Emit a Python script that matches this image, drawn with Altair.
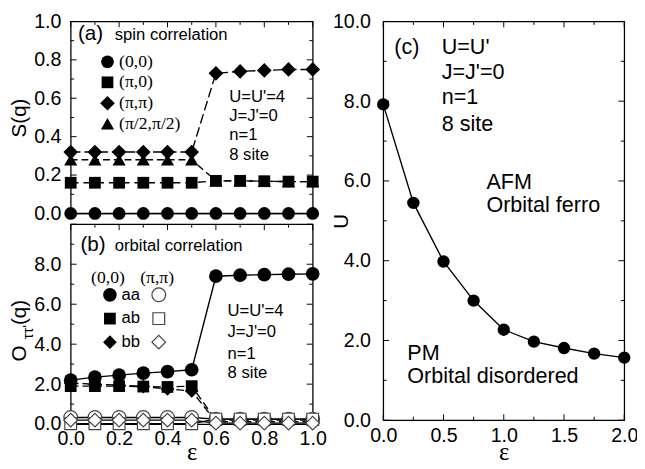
import altair as alt
import pandas as pd

SANS = "Liberation Sans"
SERIF = "Liberation Serif"

# ---------------- panel (a): spin correlation ----------------
eps_ab = [0.0, 0.1, 0.2, 0.3, 0.4, 0.5, 0.6, 0.7, 0.8, 0.9, 1.0]
s_00 = [0.0, 0.0, 0.0, 0.0, 0.0, 0.0, 0.0, 0.0, 0.0, 0.0, 0.0]
s_pi0 = [0.16, 0.16, 0.16, 0.16, 0.16, 0.16, 0.17, 0.17, 0.168, 0.166, 0.166]
s_pipi = [0.32, 0.32, 0.32, 0.32, 0.32, 0.32, 0.73, 0.74, 0.745, 0.75, 0.75]
s_pi2 = [0.28, 0.28, 0.28, 0.28, 0.28, 0.28, 0.17, 0.17, 0.168, 0.166, 0.166]

# ---------------- panel (b): orbital correlation ----------------
o_aa_00 = [2.2, 2.35, 2.45, 2.55, 2.63, 2.72, 7.4, 7.45, 7.48, 7.5, 7.52]
o_ab_00 = [1.9, 1.9, 1.9, 1.88, 1.86, 1.9, 0.2, 0.2, 0.2, 0.2, 0.2]
o_bb_00 = [2.05, 2.0, 1.95, 1.88, 1.76, 1.66, 0.12, 0.12, 0.12, 0.12, 0.12]
o_aa_pp = [0.33, 0.33, 0.33, 0.33, 0.33, 0.33, 0.25, 0.25, 0.25, 0.25, 0.25]
o_ab_pp = [0.02, 0.02, 0.02, 0.02, 0.02, 0.02, 0.25, 0.25, 0.25, 0.25, 0.25]
o_bb_pp = [0.2, 0.2, 0.2, 0.2, 0.2, 0.2, 0.05, 0.05, 0.05, 0.05, 0.05]

# ---------------- panel (c): phase boundary ----------------
eps_c = [0.0, 0.25, 0.5, 0.75, 1.0, 1.25, 1.5, 1.75, 2.0]
u_c = [7.92, 5.45, 3.98, 3.0, 2.27, 1.97, 1.81, 1.67, 1.57]

# ---------------- ticks ----------------
xab_major = [0.0, 0.2, 0.4, 0.6, 0.8, 1.0]
xab_minor = [0.1, 0.3, 0.5, 0.7, 0.9]
ya_major = [0.0, 0.2, 0.4, 0.6, 0.8, 1.0]
ya_minor = [0.1, 0.3, 0.5, 0.7, 0.9]
yb_major = [0, 2, 4, 6, 8, 10]
yb_minor = [1, 3, 5, 7, 9]
yb_labels = [0, 2, 4, 6, 8]
xc_major = [0.0, 0.5, 1.0, 1.5, 2.0]
xc_minor = [0.25, 0.75, 1.25, 1.75]
yc_major = [0, 2, 4, 6, 8, 10]
yc_minor = [1, 3, 5, 7, 9]

# ---------------- annotation texts ----------------
a_head_text = ["(a)", "spin correlation"]
a_head_x = [0.03, 0.182]
a_head_y = [0.905, 0.905]
a_leg_text = ["(0,0)", "(\u03c0,0)", "(\u03c0,\u03c0)", "(\u03c0/2,\u03c0/2)"]
a_leg_y = [0.79, 0.683, 0.574, 0.467]
a_leg_mx = 0.152
a_leg_tx = 0.2
a_info_text = ["U=U'=4", "J=J'=0", "n=1", "8 site"]
a_info_x = 0.655
a_info_y = [0.583, 0.483, 0.384, 0.276]

b_head_text = ["(b)", "orbital correlation"]
b_head_x = [0.04, 0.182]
b_head_y = [8.68, 8.68]
b_col_text = ["(0,0)", "(\u03c0,\u03c0)"]
b_col_x = [0.154, 0.357]
b_col_y = 7.32
b_leg_text = ["aa", "ab", "bb"]
b_leg_y = [6.47, 5.28, 4.1]
b_leg_fx = 0.162
b_leg_tx = 0.21
b_leg_ox = 0.364
b_info_text = ["U=U'=4", "J=J'=0", "n=1", "8 site"]
b_info_x = 0.648
b_info_y = [5.4, 4.35, 3.28, 2.3]

c_lab_text = ["(c)", "U=U'", "J=J'=0", "n=1", "8 site", "AFM", "Orbital ferro", "PM", "Orbital disordered"]
c_lab_x = [0.092, 0.485, 0.485, 0.485, 0.485, 0.856, 0.856, 0.2, 0.2]
c_lab_y = [9.18, 9.18, 8.55, 7.92, 7.26, 5.8, 5.22, 1.51, 0.94]

# ---------------- geometry ----------------
W_AB, H_A, H_B = 247, 196, 204
W_C, H_C = 246, 407
MAJ, MIN = 6, 3.5

xs_ab = alt.Scale(domain=[0, 1], range=[0, W_AB], nice=False, zero=False, padding=0)
ys_a = alt.Scale(domain=[0, 1], range=[H_A, 0], nice=False, padding=0)
ys_b = alt.Scale(domain=[0, 10], range=[H_B, 0], nice=False, padding=0)
xs_c = alt.Scale(domain=[0, 2], range=[0, W_C], nice=False, zero=False, padding=0)
ys_c = alt.Scale(domain=[0, 10], range=[H_C, 0], nice=False, padding=0)

ax_a_y = alt.Axis(values=ya_major, format=".1f", title="S(q)", labelPadding=10,
                  titleX=-52, titleBaseline="middle")
ax_b_x = alt.Axis(values=xab_major, format=".1f", title="\u03b5", labelPadding=5,
                  titleFont=SERIF, titleFontSize=25, titleY=36, titleBaseline="alphabetic")
ax_b_y = alt.Axis(values=yb_labels, format=".1f", title=None, labelPadding=10)
ax_c_x = alt.Axis(values=xc_major, format=".1f", title="\u03b5", labelPadding=6,
                  titleFont=SERIF, titleFontSize=25, titleY=40, titleBaseline="alphabetic")
ax_c_y = alt.Axis(values=yc_major, format=".1f", title="U", labelPadding=13,
                  titleX=-42, titleBaseline="middle")


def X(scale, axis):
    return alt.X("x:Q", scale=scale, axis=axis)


def Y(scale, axis):
    return alt.Y("v:Q", scale=scale, axis=axis)


def frame_ticks(xs, ys, xax, yax, W, H, xmaj, xmin, ymaj, ymin):
    out = []
    for vals, L in ((xmaj, MAJ), (xmin, MIN)):
        base = alt.Chart(pd.DataFrame({"x": vals})).mark_rule(color="black", strokeWidth=1)
        out.append(base.encode(x=X(xs, xax), y=alt.value(0), y2=alt.value(L)))
        out.append(base.encode(x=X(xs, xax), y=alt.value(H), y2=alt.value(H - L)))
    for vals, L in ((ymaj, MAJ), (ymin, MIN)):
        base = alt.Chart(pd.DataFrame({"v": vals})).mark_rule(color="black", strokeWidth=1)
        out.append(base.encode(y=Y(ys, yax), x=alt.value(0), x2=alt.value(L)))
        out.append(base.encode(y=Y(ys, yax), x=alt.value(W), x2=alt.value(W - L)))
    return out


def series(x, vals, xs, ys, xax, yax, shape, size, dash=None, open_=False):
    df = pd.DataFrame({"x": x, "v": vals})
    lk = dict(color="black", strokeWidth=1.4)
    if dash:
        lk["strokeDash"] = dash
    line = alt.Chart(df).mark_line(**lk).encode(x=X(xs, xax), y=Y(ys, yax))
    if open_:
        pt = alt.Chart(df).mark_point(shape=shape, size=size, filled=True, fill="white",
                                      stroke="#444444", strokeWidth=1.2, opacity=1)
    else:
        pt = alt.Chart(df).mark_point(shape=shape, size=size, filled=True, color="black", opacity=1)
    pt = pt.encode(x=X(xs, xax), y=Y(ys, yax))
    return [line, pt]


def texts(xv, yv, tv, xs, ys, xax, yax, font=SANS, size=17, align="left", baseline="alphabetic"):
    df = pd.DataFrame({"x": xv, "v": yv, "t": tv})
    return alt.Chart(df).mark_text(align=align, baseline=baseline, font=font, fontSize=size,
                                   color="black").encode(x=X(xs, xax), y=Y(ys, yax), text="t:N")


def marker(xv, yv, xs, ys, xax, yax, shape, size, open_=False):
    df = pd.DataFrame({"x": [xv], "v": [yv]})
    if open_:
        m = alt.Chart(df).mark_point(shape=shape, size=size, filled=True, fill="white",
                                     stroke="#444444", strokeWidth=1.2, opacity=1)
    else:
        m = alt.Chart(df).mark_point(shape=shape, size=size, filled=True, color="black", opacity=1)
    return m.encode(x=X(xs, xax), y=Y(ys, yax))


# ---------------- panel (a) ----------------
A = dict(xs=xs_ab, ys=ys_a, xax=None, yax=ax_a_y)
la = frame_ticks(xs_ab, ys_a, None, ax_a_y, W_AB, H_A, xab_major, xab_minor, ya_major, ya_minor)
la += series(eps_ab, s_00, **A, shape="circle", size=169)
la += series(eps_ab, s_pipi, **A, shape="diamond", size=225, dash=[10, 4])
la += series(eps_ab, s_pi2, **A, shape="triangle-up", size=180, dash=[7, 4])
la += series(eps_ab, s_pi0, **A, shape="square", size=144, dash=[8, 5])
la.append(texts([a_head_x[0]], [a_head_y[0]], [a_head_text[0]], **A, size=21))
la.append(texts([a_head_x[1]], [a_head_y[1]], [a_head_text[1]], **A, size=17))
for shp, sz, yy in zip(["circle", "square", "diamond", "triangle-up"], [169, 144, 225, 180], a_leg_y):
    la.append(marker(a_leg_mx, yy, **A, shape=shp, size=sz))
la.append(texts([a_leg_tx] * 4, a_leg_y, a_leg_text, **A, font=SERIF, size=18, baseline="middle"))
la.append(texts([a_info_x] * 4, a_info_y, a_info_text, **A, size=17))
panel_a = alt.layer(*la).properties(width=W_AB, height=H_A)

# ---------------- panel (b) ----------------
B = dict(xs=xs_ab, ys=ys_b, xax=ax_b_x, yax=ax_b_y)
lb = frame_ticks(xs_ab, ys_b, ax_b_x, ax_b_y, W_AB, H_B, xab_major, xab_minor, yb_major, yb_minor)
lb += series(eps_ab, o_aa_00, **B, shape="circle", size=196)
lb += series(eps_ab, o_ab_00, **B, shape="square", size=144, dash=[8, 4])
lb += series(eps_ab, o_bb_00, **B, shape="diamond", size=196, dash=[8, 4])
lb += series(eps_ab, o_aa_pp, **B, shape="circle", size=196, open_=True)
lb += series(eps_ab, o_ab_pp, **B, shape="square", size=144, open_=True)
lb += series(eps_ab, o_bb_pp, **B, shape="diamond", size=196, open_=True)
lb.append(texts([b_head_x[0]], [b_head_y[0]], [b_head_text[0]], **B, size=21))
lb.append(texts([b_head_x[1]], [b_head_y[1]], [b_head_text[1]], **B, size=17))
lb.append(texts(b_col_x, [b_col_y] * 2, b_col_text, **B, font=SERIF, size=18, align="center",
                baseline="middle"))
for shp, sz, yy in zip(["circle", "square", "diamond"], [196, 144, 196], b_leg_y):
    lb.append(marker(b_leg_fx, yy, **B, shape=shp, size=sz))
    lb.append(marker(b_leg_ox, yy, **B, shape=shp, size=sz, open_=True))
lb.append(texts([b_leg_tx] * 3, b_leg_y, b_leg_text, **B, size=17, baseline="middle"))
lb.append(texts([b_info_x] * 4, b_info_y, b_info_text, **B, size=17))
# y-axis title O_{tt'}(q) with subscript
for t, xp, yp, fs in (("O", -52, 132, 21), ("\u03c4\u03c4'", -43, 110, 15), ("(q)", -52, 90, 21)):
    lb.append(alt.Chart(pd.DataFrame({"t": [t]})).mark_text(
        angle=270, align="center", baseline="middle", font=SANS, fontSize=fs, color="black"
    ).encode(x=alt.value(xp), y=alt.value(yp), text="t:N"))
panel_b = alt.layer(*lb).properties(width=W_AB, height=H_B)

# ---------------- panel (c) ----------------
C = dict(xs=xs_c, ys=ys_c, xax=ax_c_x, yax=ax_c_y)
lc = frame_ticks(xs_c, ys_c, ax_c_x, ax_c_y, W_C, H_C, xc_major, xc_minor, yc_major, yc_minor)
lc += series(eps_c, u_c, **C, shape="circle", size=160)
lc.append(texts(c_lab_x, c_lab_y, c_lab_text, **C, size=22))
panel_c = alt.layer(*lc).properties(width=W_C, height=H_C)

left = alt.vconcat(panel_a, panel_b, spacing=11, bounds="flush")

chart = alt.hconcat(left, panel_c, spacing=3).properties(
    padding={"left": 0, "top": -2, "right": -2, "bottom": -4.5}
).configure_view(stroke="black", strokeWidth=1.3).configure_axis(
    grid=False, domain=False, ticks=False, tickSize=0, labelFlush=False, labelOverlap=False,
    labelFont=SANS, labelFontSize=20, labelColor="black",
    titleFont=SANS, titleFontSize=21, titleFontWeight="normal", titleColor="black"
)

chart.save("out.html", embed_options={"renderer": "svg", "actions": False})
